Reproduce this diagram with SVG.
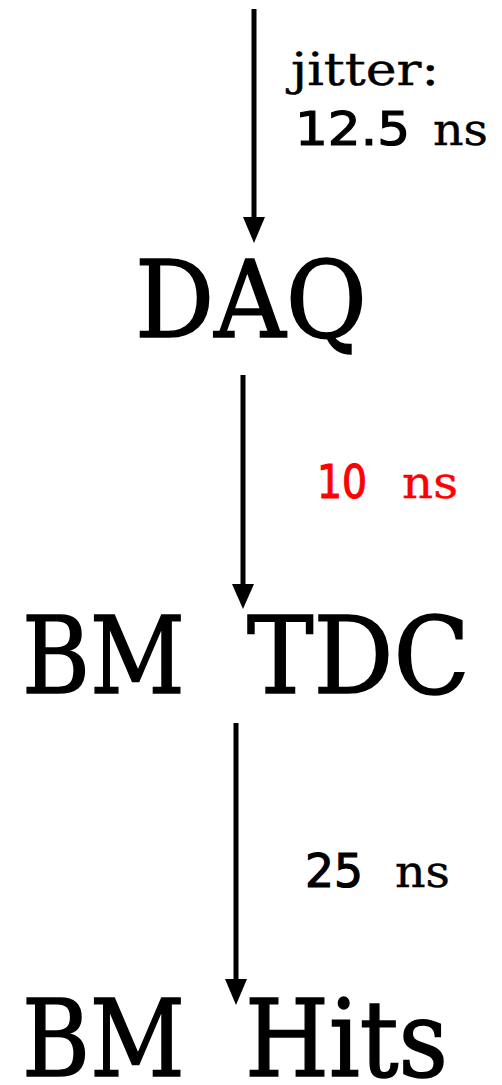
<svg xmlns="http://www.w3.org/2000/svg" width="502" height="1085" viewBox="0 0 502 1085">
<style>
.big{font-family:"DejaVu Serif","Liberation Serif",serif;font-size:106px;fill:#000;stroke:#000;stroke-width:1.6px}
.lbl{font-family:"DejaVu Serif","Liberation Serif",serif;font-size:44px;fill:#000;stroke:#000;stroke-width:0.4px}
.num{font-family:"DejaVu Sans","Liberation Sans",sans-serif;font-size:46px;fill:#000;stroke:#000;stroke-width:1.2px}
.red{fill:#f00;stroke:#f00}
.arr{stroke:#000;stroke-width:5;fill:none}
</style>
<rect width="502" height="1085" fill="#fff"/>
<g id="connectors">
<line class="arr" x1="254" y1="9" x2="254" y2="217"/>
<path d="M243,217 L265,217 L254,243 Z" fill="#000"/>
<line class="arr" x1="243" y1="375" x2="243" y2="584"/>
<path d="M232,584 L254,584 L243,609 Z" fill="#000"/>
<line class="arr" x1="236" y1="723" x2="236" y2="979"/>
<path d="M225,979 L247,979 L236,1005 Z" fill="#000"/>
</g>
<g id="label-jitter">
<text class="lbl" x="291" y="85" textLength="148" lengthAdjust="spacingAndGlyphs">jitter:</text>
<text class="num" x="295" y="145" textLength="115" lengthAdjust="spacingAndGlyphs">12.5</text>
<text class="lbl" x="433" y="145" textLength="55" lengthAdjust="spacingAndGlyphs">ns</text>
</g>
<g id="node-daq">
<text class="big" x="135" y="337" textLength="232" lengthAdjust="spacingAndGlyphs">DAQ</text>
</g>
<g id="label-10ns">
<text class="num red" x="317" y="498" textLength="50" lengthAdjust="spacingAndGlyphs">10</text>
<text class="lbl red" x="402" y="498" textLength="56" lengthAdjust="spacingAndGlyphs">ns</text>
</g>
<g id="node-bmtdc">
<text class="big" x="22" y="693" textLength="163" lengthAdjust="spacingAndGlyphs">BM</text>
<text class="big" x="247" y="693" textLength="223" lengthAdjust="spacingAndGlyphs">TDC</text>
</g>
<g id="label-25ns">
<text class="num" x="305" y="887" textLength="58" lengthAdjust="spacingAndGlyphs">25</text>
<text class="lbl" x="395" y="887" textLength="55" lengthAdjust="spacingAndGlyphs">ns</text>
</g>
<g id="node-bmhits">
<text class="big" x="22" y="1076" textLength="163" lengthAdjust="spacingAndGlyphs">BM</text>
<text class="big" x="245" y="1076" textLength="203" lengthAdjust="spacingAndGlyphs">Hits</text>
</g>
</svg>
